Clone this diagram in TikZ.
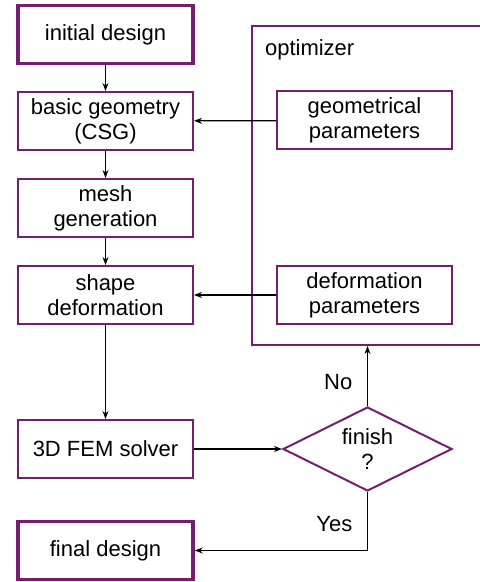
\documentclass[tikz,border=0pt]{standalone}
\usepackage{fontspec}
\setmainfont{Liberation Sans}
\usetikzlibrary{shapes.geometric,arrows.meta}
\definecolor{optpurple}{RGB}{118,30,110}
\begin{document}
\begin{tikzpicture}[x=0.5pt,y=-0.5pt,
    >={Stealth[length=4pt,width=3pt]},
    every node/.style={font=\fontsize{11}{12.5}\selectfont,align=center},
    box/.style={draw=optpurple,line width=1pt,minimum width=87.5pt,minimum height=29pt,inner sep=0pt},
    endbox/.style={box,line width=1.75pt},
    flow/.style={->,line width=0.6pt}]
    \useasboundingbox (0,0) rectangle (479,582);

    \node[endbox] (init) at (105.5,34.5) {initial design};
    \node[box] (basic) at (105.5,121) {basic geometry\\(CSG)};
    \node[box] (mesh) at (105.5,208) {mesh\\generation};
    \node[box] (deform) at (105.5,295) {shape\\deformation};
    \node[box] (solver) at (105.5,449) {3D FEM solver};
    \node[endbox] (final) at (105.5,550.5) {final design};

    % optimizer block, right side runs off the page
    \node[draw=optpurple,line width=1pt,minimum width=114.5pt,minimum height=159.5pt] (opt) at (366.5,185.5) {};
    \node[anchor=west] at (258,50) {optimizer};
    \node[box] (gpar) at (364.5,120.5) {geometrical\\parameters};
    \node[box] (dpar) at (364.5,295) {deformation\\parameters};

    \node[draw=optpurple,line width=1pt,diamond,aspect=2,minimum width=84.5pt,minimum height=42pt,inner sep=0pt] (finish) at (367.5,449) {finish\\?};

    \draw[flow] (init) -- (basic);
    \draw[flow] (basic) -- (mesh);
    \draw[flow] (mesh) -- (deform);
    \draw[flow] (deform) -- (solver);
    \draw[flow] (gpar) -- (basic);
    \draw[flow] (dpar) -- (deform);
    \draw[flow] (solver) -- (finish);
    \draw[flow] (finish.north) -- (finish.north |- opt.south) node[pos=0.4,left=4pt] {No};
    \draw[flow] (finish.south) |- (final) node[pos=0.27,left=4pt] {Yes};

\end{tikzpicture}
\end{document}
